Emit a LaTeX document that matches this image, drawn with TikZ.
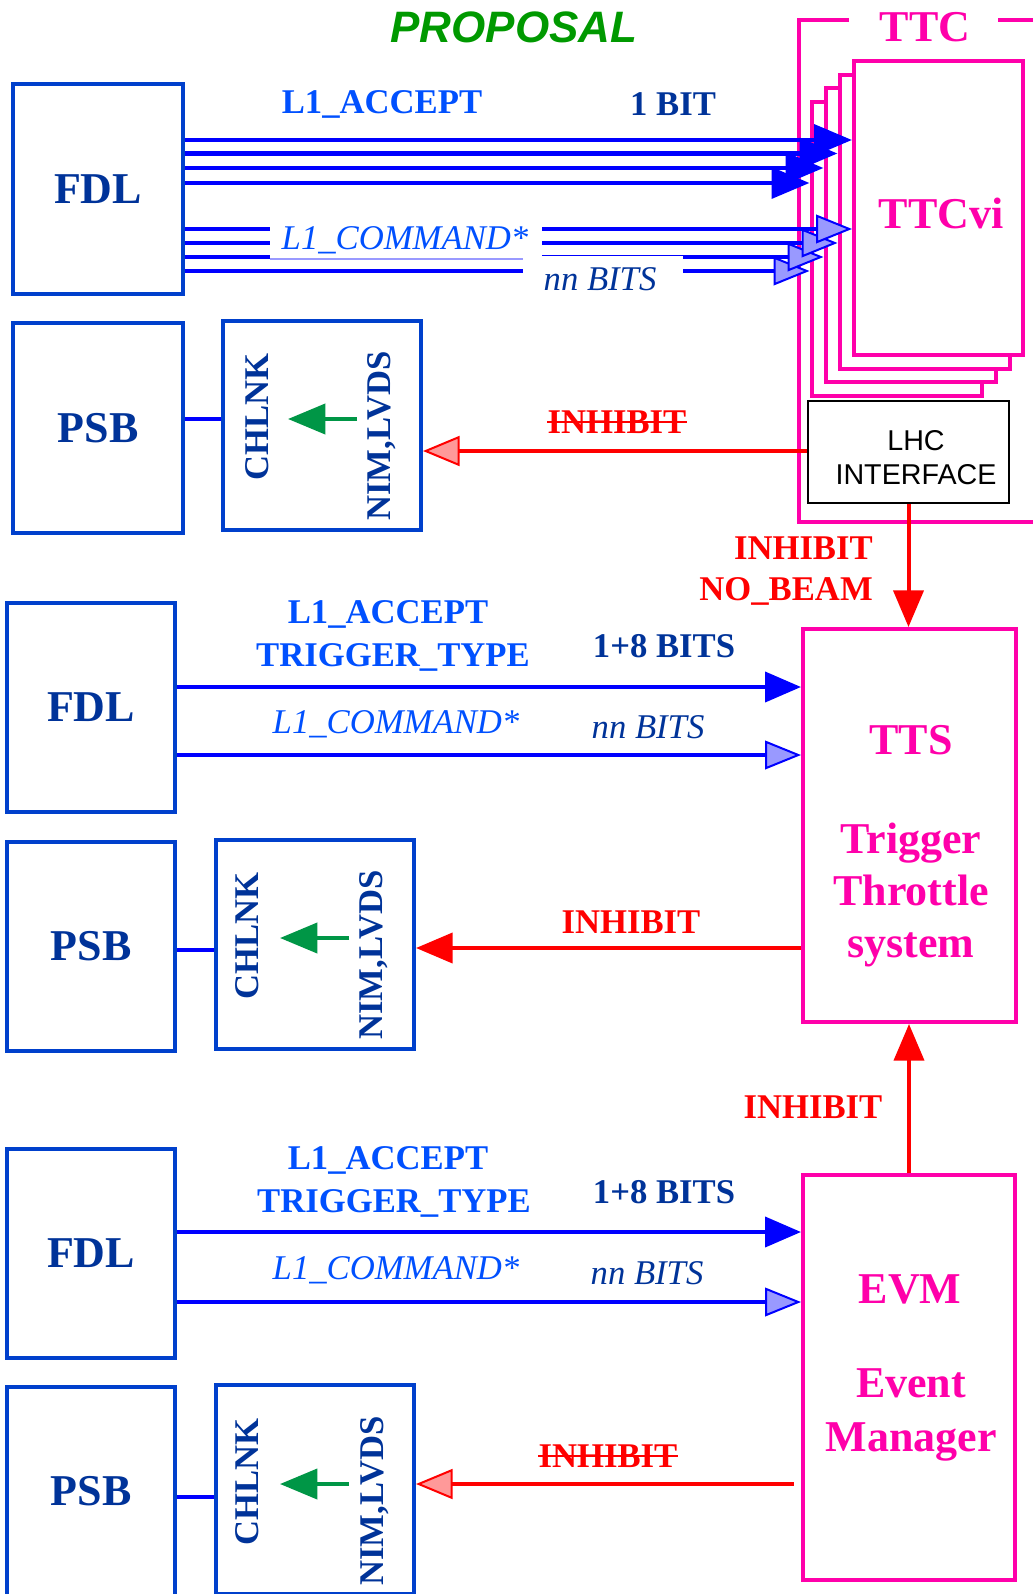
\documentclass[tikz,border=0pt]{standalone}
\usepackage{fontspec}
\setmainfont{Liberation Serif}
\newfontfamily\arialfont{Liberation Sans}
\usetikzlibrary{arrows.meta}
\definecolor{boxblue}{RGB}{0,64,204}
\definecolor{tnavy}{RGB}{0,51,153}
\definecolor{brightblue}{RGB}{0,80,255}
\definecolor{lineblue}{RGB}{0,0,255}
\definecolor{lightblue}{RGB}{153,153,255}
\definecolor{ttcpink}{RGB}{255,0,170}
\definecolor{lightred}{RGB}{255,153,153}
\definecolor{propgreen}{RGB}{0,153,0}
\definecolor{arrowgreen}{RGB}{0,150,70}
\tikzset{
  pxbox/.style 2 args={minimum width=#1*0.75pt, minimum height=#2*0.75pt},
  bluebox/.style={draw=boxblue, line width=3pt, fill=white, inner sep=0pt},
  pinkbox/.style={draw=ttcpink, line width=3pt, fill=white, inner sep=0pt},
  bigtxt/.style={font=\fontsize{33}{39}\selectfont\bfseries},
  lbl/.style={font=\fontsize{26}{32}\selectfont\bfseries, inner sep=0pt},
  ilbl/.style={font=\fontsize{26}{32}\selectfont\itshape, inner sep=0pt},
  conn/.style={lineblue, line width=3pt},
  fullhead/.style={-{Triangle[length=27pt,width=22.5pt]}},
  openhead/.style={-{Triangle[length=27pt,width=21.5pt,fill=lightblue,line width=1.5pt]}},
  redline/.style={red, line width=3pt},
  redhead/.style={-{Triangle[length=27.5pt,width=22.5pt]}},
  openred/.style={-{Triangle[length=27.5pt,width=22.5pt,fill=lightred,line width=1.5pt]}},
  greenarrow/.style={arrowgreen, line width=3pt, -{Triangle[length=28pt,width=22.5pt]}},
  strike/.style={red, line width=1.5pt}
}
\begin{document}
\begin{tikzpicture}[x=0.75pt, y=-0.75pt]
\useasboundingbox (0,0) rectangle (1032,1594);

% title
\node[font=\arialfont\bfseries\itshape\fontsize{33}{40}\selectfont, text=propgreen] (title) at (514,27) {PROPOSAL};

% ---------------- TTC frame and TTCvi stack
\draw[ttcpink, line width=3pt] (849,20) -| (799,522) -- (1040,522);
\draw[ttcpink, line width=3pt] (998,20) -- (1040,20);
\node[text=ttcpink, font=\fontsize{33}{39}\selectfont\bfseries] (ttc) at (925,27) {TTC};
\foreach \k in {3,2,1}
  \node[pinkbox, pxbox={170}{294}] (ttcvi\k) at ({938.5-14*\k},{208+13.7*\k}) {};
\node[pinkbox, pxbox={169}{294}] (ttcvi0) at (938.5,208) {};
\node[text=ttcpink, bigtxt] (ttcvitext) at (941,213) {TTCvi};

\node[draw=black, line width=1.5pt, fill=white, pxbox={201}{102}] (lhc) at (908.5,452) {};
\node[font=\arialfont\fontsize{21.5}{25.5}\selectfont, align=center] (lhctext) at (916,458) {LHC\\INTERFACE};

% ---------------- section 1
\node[bluebox, pxbox={170}{210}, text=tnavy, bigtxt] (fdl1) at (98,189) {FDL};
\node[bluebox, pxbox={170}{210}, text=tnavy, bigtxt] (psb1) at (98,428) {PSB};
\node[bluebox, pxbox={198}{209}] (chl1) at (322,425.5) {};
\node[text=tnavy, lbl, rotate=90] (chl1a) at (257,417) {CHLNK};
\node[text=tnavy, lbl, rotate=90] (chl1b) at (382,436) {NIM,LVDS};
\coordinate (g1s) at (357,419);
\coordinate (g1e) at (288,419);
\draw[greenarrow] (g1s) -- (g1e);
\coordinate (p1) at (0,419);
\draw[conn, line width=2.5pt] (psb1.east |- p1) -- (chl1.west |- p1);

\coordinate (a1) at (0,140);
\coordinate (a2) at (0,153.5);
\coordinate (a3) at (0,168);
\coordinate (a4) at (0,183);
\draw[conn, line width=3.5pt, -{Triangle[length=28.5pt,width=23pt]}] (fdl1.east |- a4) -- (ttcvi3.west |- a4);
\draw[conn, line width=3.5pt, -{Triangle[length=28.5pt,width=23pt]}] (fdl1.east |- a3) -- (ttcvi2.west |- a3);
\draw[conn, line width=3.5pt, -{Triangle[length=28.5pt,width=23pt]}] (fdl1.east |- a2) -- (ttcvi1.west |- a2);
\draw[conn, line width=3.5pt, -{Triangle[length=28.5pt,width=23pt]}] (fdl1.east |- a1) -- (ttcvi0.west |- a1);

\coordinate (b1) at (0,229);
\coordinate (b2) at (0,243);
\coordinate (b3) at (0,257);
\coordinate (b4) at (0,271);
\draw[conn, line width=3.5pt, openhead] (fdl1.east |- b4) -- (ttcvi3.west |- b4);
\draw[conn, line width=3.5pt, openhead] (fdl1.east |- b3) -- (ttcvi2.west |- b3);
\draw[conn, line width=3.5pt, openhead] (fdl1.east |- b2) -- (ttcvi1.west |- b2);
\draw[conn, line width=3.5pt, openhead] (fdl1.east |- b1) -- (ttcvi0.west |- b1);
\fill[white] (270,221) rectangle (542,259);
\fill[white] (523,256.5) rectangle (683,292);
\draw[lightblue, line width=0.8pt] (270,259) -- (523,259);

\node[text=brightblue, lbl] (acc1) at (382,104) {L1\_ACCEPT};
\node[text=tnavy, lbl] (bit1) at (673,104) {1 BIT};
\node[text=brightblue, ilbl] (cmd1) at (405,240) {L1\_COMMAND*};
\node[text=tnavy, ilbl] (nn1) at (600,279) {nn BITS};

\coordinate (r1) at (0,451);
\draw[redline, openred] (lhc.west |- r1) -- (chl1.east |- r1);
\node[text=red, lbl] (inh1) at (617,422) {INHIBIT};
\draw[strike] (inh1.west) -- (inh1.east);

% ---------------- section 2
\node[bluebox, pxbox={168}{209}, text=tnavy, bigtxt] (fdl2) at (91,707.5) {FDL};
\node[pinkbox, pxbox={213}{393}] (tts) at (909.5,825.5) {};
\node[text=ttcpink, bigtxt] (ttst) at (911,740) {TTS};
\node[text=ttcpink, bigtxt, align=center] (ttsd) at (911,895) {Trigger\\Throttle\\system};

\draw[redline, redhead] (lhc.south) -- (lhc.south |- tts.north);
\node[text=red, lbl, anchor=east] (inh2) at (873,548) {INHIBIT};
\node[text=red, lbl, anchor=east] (nobeam) at (873,591) {NO\_BEAM};

\node[text=brightblue, lbl] (acc2) at (388,614) {L1\_ACCEPT};
\node[text=brightblue, lbl] (tt2) at (393,657) {TRIGGER\_TYPE};
\node[text=tnavy, lbl] (bits2) at (664,646) {1+8 BITS};
\node[text=brightblue, ilbl] (cmd2) at (396,724) {L1\_COMMAND*};
\node[text=tnavy, ilbl] (nn2) at (648,727) {nn BITS};
\coordinate (c1) at (0,687);
\coordinate (c2) at (0,755);
\draw[conn, fullhead] (fdl2.east |- c1) -- (tts.west |- c1);
\draw[conn, openhead] (fdl2.east |- c2) -- (tts.west |- c2);

\node[bluebox, pxbox={168}{209}, text=tnavy, bigtxt] (psb2) at (91,946.5) {PSB};
\node[bluebox, pxbox={198}{209}] (chl2) at (315,944.5) {};
\node[text=tnavy, lbl, rotate=90] (chl2a) at (247,936) {CHLNK};
\node[text=tnavy, lbl, rotate=90] (chl2b) at (374,955) {NIM,LVDS};
\coordinate (g2s) at (349,938);
\coordinate (g2e) at (280,938);
\draw[greenarrow] (g2s) -- (g2e);
\coordinate (p2) at (0,950);
\draw[conn, line width=2.5pt] (psb2.east |- p2) -- (chl2.west |- p2);
\coordinate (r2) at (0,948);
\draw[redline, redhead] (tts.west |- r2) -- (chl2.east |- r2);
\node[text=red, lbl] (inh3) at (631,922) {INHIBIT};

% ---------------- section 3
\node[bluebox, pxbox={168}{209}, text=tnavy, bigtxt] (fdl3) at (91,1253.5) {FDL};
\node[pinkbox, pxbox={212}{405}] (evm) at (909,1377.5) {};
\node[text=ttcpink, bigtxt] (evmt) at (910,1289) {EVM};
\node[text=ttcpink, bigtxt, align=center, font=\fontsize{33}{40}\selectfont\bfseries] (evmd) at (911,1415) {Event\\Manager};

\draw[redline, redhead] (evm.north) -- (evm.north |- tts.south);
\node[text=red, lbl] (inh4) at (813,1107) {INHIBIT};

\node[text=brightblue, lbl] (acc3) at (388,1160) {L1\_ACCEPT};
\node[text=brightblue, lbl] (tt3) at (394,1203) {TRIGGER\_TYPE};
\node[text=tnavy, lbl] (bits3) at (664,1192) {1+8 BITS};
\node[text=brightblue, ilbl] (cmd3) at (396,1270) {L1\_COMMAND*};
\node[text=tnavy, ilbl] (nn3) at (647,1273) {nn BITS};
\coordinate (d1) at (0,1232);
\coordinate (d2) at (0,1302);
\draw[conn, fullhead] (fdl3.east |- d1) -- (evm.west |- d1);
\draw[conn, openhead] (fdl3.east |- d2) -- (evm.west |- d2);

\node[bluebox, pxbox={168}{209}, text=tnavy, bigtxt] (psb3) at (91,1491.5) {PSB};
\node[bluebox, pxbox={198}{209}] (chl3) at (315,1489.5) {};
\node[text=tnavy, lbl, rotate=90] (chl3a) at (247,1482) {CHLNK};
\node[text=tnavy, lbl, rotate=90] (chl3b) at (375,1501) {NIM,LVDS};
\coordinate (g3s) at (349,1484);
\coordinate (g3e) at (280,1484);
\draw[greenarrow] (g3s) -- (g3e);
\coordinate (p3) at (0,1497);
\draw[conn, line width=2.5pt] (psb3.east |- p3) -- (chl3.west |- p3);
\coordinate (r3) at (0,1484);
\draw[redline, openred, shorten <=5.5pt] (evm.west |- r3) -- (chl3.east |- r3);
\node[text=red, lbl] (inh5) at (608,1456) {INHIBIT};
\draw[strike] (inh5.west) -- (inh5.east);
\end{tikzpicture}
\end{document}
